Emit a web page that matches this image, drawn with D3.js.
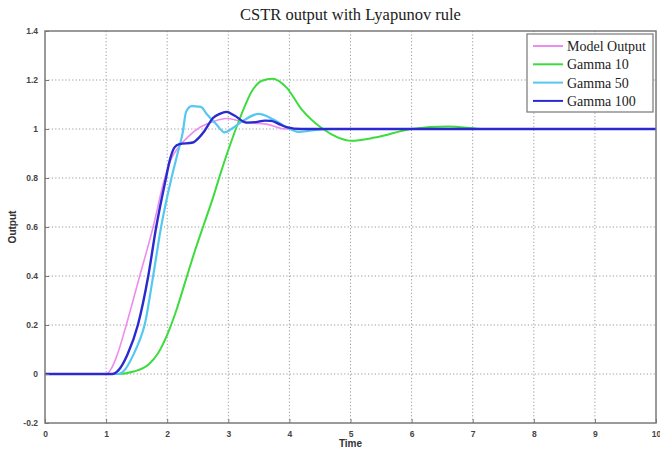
<!DOCTYPE html>
<html>
<head>
<meta charset="utf-8">
<script src="https://cdn.jsdelivr.net/npm/d3@7"></script>
<style>
  body { margin: 0; background: #fff; }
  svg { display: block; }
</style>
</head>
<body>
<div id="chart"></div>
<script>
// [time, output] samples
var modelOutput = [
  [0, 0], [1.0, 0], [1.08, 0.02], [1.17, 0.07], [1.33, 0.2], [1.55, 0.4], [1.77, 0.6],
  [1.96, 0.8], [2.07, 0.88], [2.18, 0.924], [2.35, 0.97], [2.53, 1.006], [2.75, 1.03],
  [2.97, 1.043], [3.15, 1.035], [3.3, 1.026], [3.62, 1.02], [3.95, 1.0], [10, 1.0]
];
var gamma10 = [
  [0, 0], [1.2, 0], [1.45, 0.01], [1.7, 0.04], [1.85, 0.085], [2.0, 0.16], [2.15, 0.26],
  [2.3, 0.38], [2.45, 0.5], [2.6, 0.61], [2.75, 0.72], [2.9, 0.84], [3.05, 0.95],
  [3.2, 1.05], [3.4, 1.16], [3.55, 1.197], [3.72, 1.205], [3.95, 1.17], [4.2, 1.08],
  [4.55, 1.0], [4.8, 0.965], [5.01, 0.952], [5.4, 0.965], [6.0, 1.0], [6.6, 1.01],
  [7.2, 1.0], [10, 1.0]
];
var gamma50 = [
  [0, 0], [1.2, 0], [1.3, 0.015], [1.45, 0.08], [1.55, 0.138], [1.63, 0.2], [1.77, 0.4],
  [1.9, 0.6], [2.07, 0.8], [2.18, 0.91], [2.25, 0.98], [2.31, 1.07], [2.4, 1.093],
  [2.55, 1.09], [2.65, 1.06], [2.8, 1.02], [2.94, 0.986], [3.05, 1.0], [3.24, 1.033],
  [3.5, 1.062], [3.73, 1.04], [3.95, 1.008], [4.15, 0.988], [4.4, 0.995], [4.7, 1.0], [10, 1.0]
];
var gamma100 = [
  [0, 0], [1.1, 0], [1.2, 0.015], [1.35, 0.08], [1.52, 0.2], [1.69, 0.4], [1.82, 0.6],
  [1.98, 0.8], [2.04, 0.87], [2.12, 0.925], [2.2, 0.938], [2.42, 0.945], [2.52, 0.965],
  [2.61, 0.992], [2.75, 1.045], [2.86, 1.062], [2.97, 1.07], [3.1, 1.055], [3.3, 1.026],
  [3.45, 1.028], [3.6, 1.034], [3.7, 1.033], [3.85, 1.018], [3.95, 1.008], [4.2, 1.0], [10, 1.0]
];

var seriesNames = ["Model Output", "Gamma 10", "Gamma 50", "Gamma 100"];
var xTicks = [0, 1, 2, 3, 4, 5, 6, 7, 8, 9, 10];
var yTicks = [-0.2, 0, 0.2, 0.4, 0.6, 0.8, 1, 1.2, 1.4];

var width = 660;
var height = 453;
var plot = { x0: 45, x1: 656, y0: 31, y1: 423 };

var series = [
  { name: seriesNames[0], values: modelOutput, color: "#ee8cee", stroke: 1.6 },
  { name: seriesNames[1], values: gamma10, color: "#3ddc3d", stroke: 2 },
  { name: seriesNames[2], values: gamma50, color: "#55c8f0", stroke: 2.2 },
  { name: seriesNames[3], values: gamma100, color: "#2a2ad0", stroke: 2.4 }
];

var xScale = d3.scaleLinear().domain([0, 10]).range([plot.x0, plot.x1]);
var yScale = d3.scaleLinear().domain([-0.2, 1.4]).range([plot.y1, plot.y0]);

var svg = d3
  .select("#chart")
  .append("svg")
  .attr("width", width)
  .attr("height", height);

/* grid */
var grid = svg.append("g").attr("stroke", "#9a9a9a").attr("stroke-width", 1)
  .attr("stroke-dasharray", "1.2,2.2");
grid.selectAll(".gx")
  .data(xTicks.slice(1, -1))
  .enter()
  .append("line")
  .attr("x1", (d) => xScale(d)).attr("x2", (d) => xScale(d))
  .attr("y1", plot.y0).attr("y2", plot.y1);
grid.selectAll(".gy")
  .data(yTicks.slice(1, -1))
  .enter()
  .append("line")
  .attr("y1", (d) => yScale(d)).attr("y2", (d) => yScale(d))
  .attr("x1", plot.x0).attr("x2", plot.x1);

/* lines */
var line = d3
  .line()
  .x((d) => xScale(d[0]))
  .y((d) => yScale(d[1]))
  .curve(d3.curveMonotoneX);

svg.append("g")
  .selectAll("path")
  .data(series)
  .enter()
  .append("path")
  .attr("fill", "none")
  .attr("stroke", (d) => d.color)
  .attr("stroke-width", (d) => d.stroke)
  .attr("stroke-linejoin", "round")
  .attr("d", (d) => line(d.values));

/* axes, matlab style: ticks inward, frame on all sides */
var xAxis = d3.axisBottom(xScale).tickValues(xTicks).tickSizeInner(-4).tickSizeOuter(0)
  .tickPadding(6).tickFormat(d3.format("d"));
var yAxis = d3.axisLeft(yScale).tickValues(yTicks).tickSizeInner(-4).tickSizeOuter(0)
  .tickPadding(7).tickFormat((d) => String(+d.toFixed(1)));

var gx = svg.append("g")
  .attr("transform", `translate(0, ${plot.y1})`)
  .call(xAxis);
var gy = svg.append("g")
  .attr("transform", `translate(${plot.x0}, 0)`)
  .call(yAxis);

[gx, gy].forEach(function (g) {
  g.select(".domain").remove();
  g.selectAll("line").attr("stroke", "#777");
  g.selectAll("text")
    .attr("fill", "#444")
    .style("font-family", "Liberation Sans, Arial, sans-serif")
    .style("font-size", "8.5px")
    .style("font-weight", "bold");
});
gx.selectAll("text").attr("dy", "0.9em");

svg.append("rect")
  .attr("x", plot.x0).attr("y", plot.y0)
  .attr("width", plot.x1 - plot.x0).attr("height", plot.y1 - plot.y0)
  .attr("fill", "none")
  .attr("stroke", "#7a7a7a")
  .attr("stroke-width", 1.5);

/* titles */
svg.append("text")
  .attr("x", (plot.x0 + plot.x1) / 2)
  .attr("y", 20)
  .attr("text-anchor", "middle")
  .attr("fill", "#222")
  .style("font-family", "Liberation Serif, Times New Roman, serif")
  .style("font-size", "16.5px")
  .text("CSTR output with Lyapunov rule");

svg.append("text")
  .attr("x", (plot.x0 + plot.x1) / 2)
  .attr("y", 447)
  .attr("text-anchor", "middle")
  .attr("fill", "#333")
  .style("font-family", "Liberation Sans, Arial, sans-serif")
  .style("font-size", "10px")
  .style("font-weight", "bold")
  .text("Time");

svg.append("text")
  .attr("transform", `translate(16, ${(plot.y0 + plot.y1) / 2}) rotate(-90)`)
  .attr("text-anchor", "middle")
  .attr("fill", "#333")
  .style("font-family", "Liberation Sans, Arial, sans-serif")
  .style("font-size", "10px")
  .style("font-weight", "bold")
  .text("Output");

/* legend */
var legend = svg.append("g").attr("transform", "translate(527, 34)");
legend.append("rect")
  .attr("width", 126).attr("height", 78)
  .attr("fill", "#fff")
  .attr("stroke", "#777")
  .attr("stroke-width", 1.2);

var items = legend.selectAll(".item")
  .data(series)
  .enter()
  .append("g")
  .attr("transform", (d, i) => `translate(0, ${12 + i * 18.3})`);
items.append("line")
  .attr("x1", 6).attr("x2", 36)
  .attr("stroke", (d) => d.color)
  .attr("stroke-width", 2);
items.append("text")
  .attr("x", 40)
  .attr("dy", "0.35em")
  .attr("fill", "#222")
  .style("font-family", "Liberation Serif, Times New Roman, serif")
  .style("font-size", "14px")
  .text((d) => d.name);
</script>
</body>
</html>
